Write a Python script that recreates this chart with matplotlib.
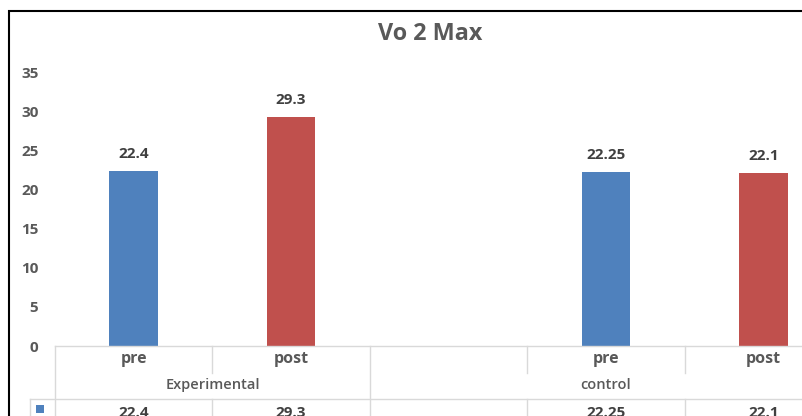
import matplotlib.pyplot as plt
from matplotlib.patches import Rectangle
from matplotlib.transforms import blended_transform_factory

plt.rcParams['font.family'] = ['Open Sans', 'DejaVu Sans']

# category layout: two groups, with an empty slot before the control pair
categories = ["pre", "post", "", "pre", "post"]
groups = ["Experimental", "control"]
group_spans = [(0, 1), (2, 4)]
values = [22.4, 29.3, None, 22.25, 22.1]
value_text = ["22.4", "29.3", "", "22.25", "22.1"]
colors = ["#4F81BD", "#C0504D", None, "#4F81BD", "#C0504D"]

W, H = 803, 416
fig = plt.figure(figsize=(W / 100, H / 100), dpi=100)

# plot area in pixels: x 55..842 (5 slots), y 0 at 346, 35 at 72
ax = fig.add_axes([55 / W, (H - 346) / H, 787 / W, 274 / H])

text_gray = "#595959"
label_gray = "#404040"
line_gray = "#D9D9D9"

xs = [i for i, v in enumerate(values) if v is not None]
hs = [values[i] for i in xs]
cs = [colors[i] for i in xs]
bars = ax.bar(xs, hs, width=0.31, color=cs, zorder=2)
ax.bar_label(bars, labels=[value_text[i] for i in xs], padding=7,
             fontsize=11, fontweight='bold', color=label_gray)

ax.set_xlim(-0.5, len(categories) - 0.5)
ax.set_ylim(0, 35)
ax.set_yticks(range(0, 36, 5))
ax.set_xticks([])
for s in ax.spines.values():
    s.set_visible(False)
ax.tick_params(axis='y', length=0, pad=12, labelsize=11, labelcolor=text_gray)
for t in ax.get_yticklabels():
    t.set_fontweight('bold')

# data table under the axis
def fy(px):
    return 1 - px / H

tr = blended_transform_factory(ax.transData, fig.transFigure)
lw = 1.0
row1_bot, row2_bot, top = 373, 399, 346
n = len(categories)
ax.plot([-0.5, n], [fy(top), fy(top)], transform=tr, color=line_gray, lw=lw, clip_on=False)
x_key = -0.5 - 25 / 157.4
ax.plot([x_key, n], [fy(row2_bot), fy(row2_bot)], transform=tr, color=line_gray, lw=lw, clip_on=False)
ax.plot([x_key, x_key], [fy(row2_bot), fy(H + 5)], transform=tr, color=line_gray, lw=lw, clip_on=False)
group_edges = [g[0] - 0.5 for g in group_spans] + [group_spans[-1][1] + 0.5]
for k in range(n + 1):
    xb = k - 0.5
    if xb in group_edges:
        ax.plot([xb, xb], [fy(top), fy(H + 5)], transform=tr, color=line_gray, lw=lw, clip_on=False)
    else:
        ax.plot([xb, xb], [fy(top), fy(row1_bot)], transform=tr, color=line_gray, lw=lw, clip_on=False)
        ax.plot([xb, xb], [fy(row2_bot), fy(H + 5)], transform=tr, color=line_gray, lw=lw, clip_on=False)

for i, c in enumerate(categories):
    ax.text(i, fy(359), c, transform=tr, ha='center', va='center',
            fontsize=11.5, fontweight='bold', color=text_gray, clip_on=False)
for g, (a, b) in zip(groups, group_spans):
    ax.text((a - 0.5 + b + 0.5) / 2, fy(385), g, transform=tr, ha='center', va='center',
            fontsize=10.5, fontweight='semibold', color=text_gray, clip_on=False)
for i, t in enumerate(value_text):
    ax.text(i, fy(413), t, transform=tr, ha='center', va='center',
            fontsize=11, fontweight='bold', color=label_gray, clip_on=False)

# legend key in the data table
fig.patches.append(Rectangle((36 / W, fy(413)), 8 / W, 8 / H, transform=fig.transFigure,
                             facecolor="#4F81BD", edgecolor='none'))

# chart border
fig.patches.append(Rectangle((9 / W, -0.1), 1.2, fy(11) + 0.1, transform=fig.transFigure,
                             facecolor='none', edgecolor='black', lw=1.5))

fig.text(430 / W, fy(34), "Vo 2 Max", ha='center', va='center',
         fontsize=16.8, fontweight='bold', color=text_gray)

fig.savefig("out.png", dpi=100)
